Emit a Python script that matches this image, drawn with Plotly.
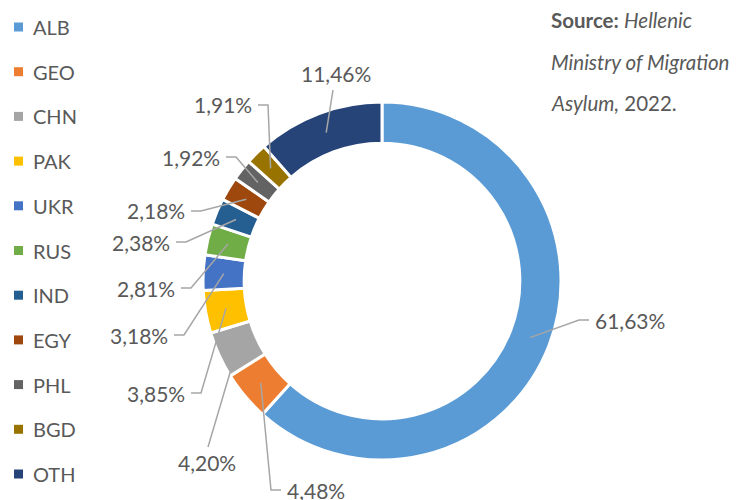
import math
import plotly.graph_objects as go

# ---- data ----
countries = ["ALB", "GEO", "CHN", "PAK", "UKR", "RUS", "IND", "EGY", "PHL", "BGD", "OTH"]
shares = [61.63, 4.48, 4.20, 3.85, 3.18, 2.81, 2.38, 2.18, 1.92, 1.91, 11.46]
colors = ["#5B9BD5", "#ED7D31", "#A5A5A5", "#FFC000", "#4472C4", "#70AD47",
          "#255E91", "#9E480E", "#636363", "#997300", "#264478"]

# ---- layout / style ----
W, H = 747, 500
CX, CY, R = 382, 281, 179
HOLE = 0.77
FONT = "Lato, 'Open Sans', sans-serif"
TXT = "#595959"
LINE = "#A6A6A6"

# label text placement (pixel, text anchor point) and side the leader attaches to
label_pos = [
    (593, 320, "left"),    # ALB
    (285, 490, "left"),    # GEO
    (207, 462, "center"),  # CHN
    (187, 393, "right"),   # PAK
    (170, 335, "right"),   # UKR
    (177, 288, "right"),   # RUS
    (172, 242, "right"),   # IND
    (187, 211, "right"),   # EGY
    (222, 157, "right"),   # PHL
    (254, 105, "right"),   # BGD
    (336, 73, "center"),   # OTH
]

fig = go.Figure()
fig.add_trace(go.Pie(
    labels=countries, values=shares, sort=False, direction="clockwise", rotation=0,
    hole=HOLE, marker=dict(colors=colors, line=dict(color="white", width=3)),
    textinfo="none", hoverinfo="label+percent", showlegend=False,
    domain=dict(x=[(CX - R) / W, (CX + R) / W], y=[1 - (CY + R) / H, 1 - (CY - R) / H]),
))

annotations = []
shapes = []

total = sum(shares)
cum = 0.0
rmid = R * (1 + HOLE) / 2
for i, v in enumerate(shares):
    mid = (cum + v / 2) / total * 2 * math.pi
    cum += v
    ax_ = CX + rmid * math.sin(mid)
    ay_ = CY - rmid * math.cos(mid)
    lx, ly, anc = label_pos[i]
    txt = f"{v:.2f}%".replace(".", ",")
    annotations.append(dict(x=lx / W, y=1 - ly / H, xref="paper", yref="paper",
                            text=txt, showarrow=False, xanchor=anc, yanchor="middle",
                            font=dict(family=FONT, size=21, color=TXT)))
    if anc == "center":
        if ly < ay_:
            pts = [(ax_, ay_), (lx - 3, ly + 17)]
        else:
            pts = [(ax_, ay_), (lx + 1, ly - 15)]
    else:
        sgn = -1 if anc == "left" else 1
        e1 = lx + sgn * 4
        e2 = lx + sgn * 14
        pts = [(ax_, ay_), (e2, ly), (e1, ly)]
    path = "M" + " L".join(f"{p[0] / W:.5f},{1 - p[1] / H:.5f}" for p in pts)
    shapes.append(dict(type="path", path=path, xref="paper", yref="paper",
                       line=dict(color=LINE, width=1.5)))

# manual legend
leg_y0, leg_dy = 27, 44.7
for i, (c, col) in enumerate(zip(countries, colors)):
    y = leg_y0 + i * leg_dy
    shapes.append(dict(type="rect", xref="paper", yref="paper",
                       x0=14 / W, x1=23 / W, y0=1 - (y + 4.5) / H, y1=1 - (y - 4.5) / H,
                       fillcolor=col, line=dict(width=0)))
    annotations.append(dict(x=31 / W, y=1 - y / H, xref="paper", yref="paper", text=c,
                            showarrow=False, xanchor="left", yanchor="middle",
                            font=dict(family=FONT, size=20, color=TXT)))

# source note
src_lines = ["<b>Source:</b> <i>Hellenic</i>", "<i>Ministry of Migration</i>", "<i>Asylum,</i> 2022."]
for j, t in enumerate(src_lines):
    annotations.append(dict(x=549 / W, y=1 - (20 + j * 41.5) / H, xref="paper", yref="paper",
                            text=t, showarrow=False, xanchor="left", yanchor="middle",
                            font=dict(family=FONT, size=20.5, color=TXT)))

fig.update_layout(width=W, height=H, margin=dict(l=0, r=0, t=0, b=0),
                  paper_bgcolor="white", plot_bgcolor="white",
                  annotations=annotations, shapes=shapes)
fig.write_html("out.html")
